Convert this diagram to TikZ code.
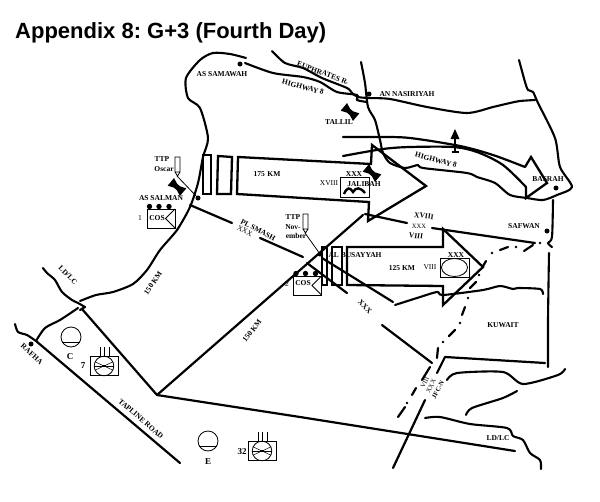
\documentclass[tikz,border=0pt]{standalone}
\usepackage{fontspec}
\setmainfont{Liberation Serif}
\newfontfamily\titlefont{Liberation Sans}
\frenchspacing
\tikzset{
  road/.style={line width=2.2pt,line cap=round,line join=round},
  bold line/.style={line width=2.3pt,line join=miter},
  thin box/.style={line width=0.8pt},
  river/.style={line width=2.1pt,line cap=round,line join=round,smooth,tension=0.45},
  lab/.style={font=\bfseries\fontsize{7.5}{8}\selectfont,inner sep=0pt},
  lab plain/.style={font=\fontsize{7.5}{8}\selectfont,inner sep=0pt},
  big lab/.style={font=\bfseries\fontsize{9}{10}\selectfont,inner sep=0pt},
  town/.style={circle,fill=black,minimum size=5pt,inner sep=0pt},
  airfield/.pic={\fill[rotate=-40] (-8,-5)--(-8,5)--(-2,2.5)--(2,2.5)--(8,5)--(8,-5)--(2,-2.5)--(-2,-2.5)--cycle;},
  arty/.pic={
    \draw[thin box] (-14,-10) rectangle (14,9);
    \draw[thin box] (0,0) circle[radius=9.8];
    \foreach \a in {0,180,25,155,-25,-155}{\draw[line width=0.5pt] (0,0)--(\a:9.8);}
    \draw[line width=1.2pt] (-2,0)--(2,0);
    \foreach \d in {-4,0,5}{\draw[thin box] (\d,-19)--(\d,-9);}
  },
  unit/.pic={
    \draw[thin box] (0,0) circle[radius=10];
    \draw[thin box] (-9.2,5)--(9.2,5);
  },
  dep/.pic={
    \draw[thin box] (-14,-9.5) rectangle (14,9.5);
    \draw[thin box] (14,-9.5)--(4.5,0)--(14,9.5);
    \foreach \d in {-11.5,-2,8}{\fill (\d,-12) circle[radius=2.7];}
  },
  flag/.pic={
    \draw[thin box] (-2.5,-10) rectangle (2.5,5) (-2.5,5)--(0,9)--(2.5,5);
  }
}
\begin{document}
\begin{tikzpicture}[x=1pt,y=-1pt]
\useasboundingbox (0,0) rectangle (600,501);
\node[anchor=west,inner sep=0pt,font=\titlefont\bfseries\fontsize{22}{24}\selectfont] (title) at (15,33) {Appendix 8: G+3 (Fourth Day)};

% western boundary
\draw[river] plot coordinates {(246,58)(230,54)(213,53)(200,60)(186,78)(188,98)(200,108)(208,138)(203,157)(198,183)(190,207)(177,230)(160,250)(147,270)(133,284)(113,292)(96,295)(80,301)};
% LD/LC
\draw[river] plot coordinates {(43,268)(47,273)(55,280)(62,292)(72,300)(78,303)(85,307)};
\draw[road] (85,307)--(80,310);
\draw[river] plot coordinates {(78,308)(60,320)(45,328)(36,341)};
\draw[river] plot coordinates {(15,324)(18,332)(27,335)(36,341)};
% roads
\coordinate (hub) at (157,395);
\draw[road] (36,341)--(180,463);
\draw[road] (82,309)--(hub)--(363,215);
\draw[road] (hub)--(300,417)--(515,451);
\draw[road] (393,468)--(425,400);
\draw[road] (437,373)--(445,357)--(545,363);
\draw[road] (382,325)--(432,363);
% right side
\draw[river] plot coordinates {(553,200)(552,237)(548,243)(552,247)};
\draw[river] plot coordinates {(549,253)(548,320)(548,367)};
% corps boundary lines
\draw[road] (365,214)--(407,223);
\draw[road] (432,228)--(535,243);
\draw[road] (190,205)--(232,223);
\draw[road] (260,238)--(303,257);
\draw[road] (307,263)--(347,293);
\draw[road] (322,258)--(393,302);
% river / border through second arrow
\draw[river] plot coordinates {(395,305)(417,298)(437,292)(443,295)(483,290)(500,286)(513,289)(518,288)(540,289)(543,294)};
\draw[river] plot coordinates {(447,380)(457,373)(503,372)(523,384)(558,375)(565,369)};
\draw[river] plot coordinates {(466,415)(472,408)(503,398)(517,391)};
\draw[river] plot coordinates {(425,418)(440,417)(470,424)(507,428)(513,436)(523,440)(530,453)(540,460)(541,469)};
% dash-dot boundary
\draw[road] (398,417)--(405,407) (412,395)--(416,388) (422,380)--(430,367) (437,358)--(438,348) (449,336)--(455,330) (462,315)--(465,307) (470,288)--(476,282) (482,268)--(486,261) (500,250)--(508,247) (524,251)--(533,245);
\foreach \p in {(407,403),(443,342),(460,323),(468,298),(479,275),(492,253),(516,247),(540,243)}{\fill \p circle[radius=1.4];}
% northern rivers and highways
\draw[river] plot coordinates {(245,63)(273,73)(303,77)(320,82)(337,92)(357,95)(357,100)(367,102)};
\draw[river] plot coordinates {(272,51)(285,63)(303,68)(322,78)(347,88)(352,93)(358,97)(369,98)(390,99)(427,107)(467,113)(493,107)(510,103)(520,101)(535,100)};
\draw[river] plot coordinates {(361,62)(365,83)(368,107)(375,120)(380,140)(383,153)(390,163)(405,168)(418,165)(423,168)(467,173)(477,177)(495,183)(510,195)(527,198)(543,200)(557,195)(572,187)(560,167)(555,138)(538,103)(533,92)(528,90)(525,82)(519,60)};
% highway-8 arrow
\draw[road,smooth,tension=0.5] plot coordinates {(343,137)(380,137)(410,138)(460,146)(493,155)(525,167)};
\draw[bold line] (525,167)--(531,157)--(547,183)--(526,198)--(526,187);
\draw[road,smooth,tension=0.5] plot coordinates {(343,156)(383,149)(410,147)(453,147)(477,152)(503,165)(526,187)};
% small up arrow
\draw[road] (455,135)--(455,152);
\fill (455,129)--(459.5,139)--(450.5,139)--cycle;
\draw[line width=1.2pt] (451.5,152)--(458.5,152);
% main arrow 175 km
\draw[bold line] (238,157)--(371,164)--(372,145)--(426,186)--(368,221)--(369,202)--(237,194)--cycle;
\draw[bold line] (203,155)--(211,155)--(211,194)--(203,194)--cycle;
\draw[bold line] (218,156)--(232,157)--(231,194)--(217,194)--cycle;
% arrow 125 km
\draw[bold line] (347,247)--(443,247)--(443,229)--(483,267)--(443,305)--(443,286)--(347,285)--cycle;
\draw[bold line] (322,247) rectangle (327,285);
\draw[bold line] (332,247) rectangle (342,285);
% towns
\node[town] (samawah) at (240,64) {};
\node[town] (nasiriyah) at (369,94) {};
\node[town] (basrah) at (556,188) {};
\node[town] (safwan) at (547,231) {};
\node[town] (salman) at (198,198) {};
\node[town] (busayyah) at (320,254) {};
\node[town] (rafha) at (31,344) {};
% airfields
\pic at (350,112) {airfield};
\pic at (372,173) {airfield};
\pic at (177,187) {airfield};
% flags
\pic at (177.5,167) {flag};
\draw[thin box] (177,176)--(salman);
\pic at (305.5,224) {flag};
\draw[thin box] (305,233)--(busayyah);
% corps symbols
\draw[thin box] (340,177) rectangle (369,197);
\draw[line width=2.4pt] (344,194) .. controls (347,187) and (350,187) .. (353,192) .. controls (356,187) and (360,187) .. (365,193);
\draw[thin box] (440,258) rectangle (469,277);
\draw[thin box] (454.5,267.5) ellipse[x radius=13,y radius=9];
\pic at (161,218.5) {dep};
\pic at (307.5,285.5) {dep};
\pic at (71,337) {unit};
\pic at (208,441) {unit};
\pic at (104,366) {arty};
\pic at (262,451) {arty};
% labels
\node[lab,rotate=-20] at (323,73) {EUPHRATES R.};
\node[lab,rotate=-15] at (303,87) {HIGHWAY 8};
\node[lab,rotate=-15] at (436,160) {HIGHWAY 8};
\node[lab] at (407,94) {AN NASIRIYAH};
\node[lab] at (339,122) {TALLIL};
\node[lab] at (222,74) {AS SAMAWAH};
\node[lab] at (162,159) {TTP};
\node[lab] at (164,169) {Oscar};
\node[lab] at (161,198) {AS SALMAN};
\node[lab plain] at (140,218) {1};
\node[lab] at (157,218) {COS};
\node[lab] at (267,174) {175\,\,KM};
\node[lab] at (354,174) {XXX};
\node[lab plain] at (329,183) {XVIII};
\node[lab] at (364,184) {JALIBAH};
\node[lab,rotate=-28] at (258,230) {PL SMASH};
\node[lab plain,rotate=-28] at (245,231) {XXX};
\node[lab,rotate=-8] at (424,216) {XVIII};
\node[lab plain,font=\fontsize{6.5}{7}\selectfont] at (419,226) {XXX};
\node[lab,rotate=-8] at (416,236) {VIII};
\node[lab] at (524,226) {SAFWAN};
\node[lab] at (548,179) {BASRAH};
\node[lab] at (293,217) {TTP};
\node[lab] at (293,227) {Nov-};
\node[lab] at (296,236) {ember};
\node[lab] at (355,255) {AL BUSAYYAH};
\node[lab plain] at (287,284) {2};
\node[lab] at (303,283) {COS};
\node[lab] at (402,268) {125 KM};
\node[lab plain] at (430,267) {VIII};
\node[lab] at (456,255) {XXX};
\node[lab] at (503,325) {KUWAIT};
\node[lab,rotate=-45] at (365,307) {XXX};
\node[lab plain,font=\fontsize{6.5}{7}\selectfont,rotate=62] at (425,383) {VIII};
\node[lab plain,font=\fontsize{6.5}{7}\selectfont,rotate=62] at (431,386) {XXX};
\node[lab,font=\bfseries\fontsize{6.5}{7}\selectfont,rotate=62] at (438,390) {JFC-N};
\node[lab] at (498,438) {LD/LC};
\node[lab,rotate=-45] at (68,275) {LD/LC};
\node[lab,rotate=55] at (153,283) {150 KM};
\node[lab,rotate=52] at (252,331) {150 KM};
\node[lab,rotate=-42] at (32,354) {RAFHA};
\node[lab,rotate=-41] at (141,419) {TAPLINE ROAD};
\node[big lab] at (70,357) {C};
\node[big lab] at (83,366) {7};
\node[big lab] at (208,462) {E};
\node[big lab] at (242,452) {32};
\end{tikzpicture}
\end{document}
